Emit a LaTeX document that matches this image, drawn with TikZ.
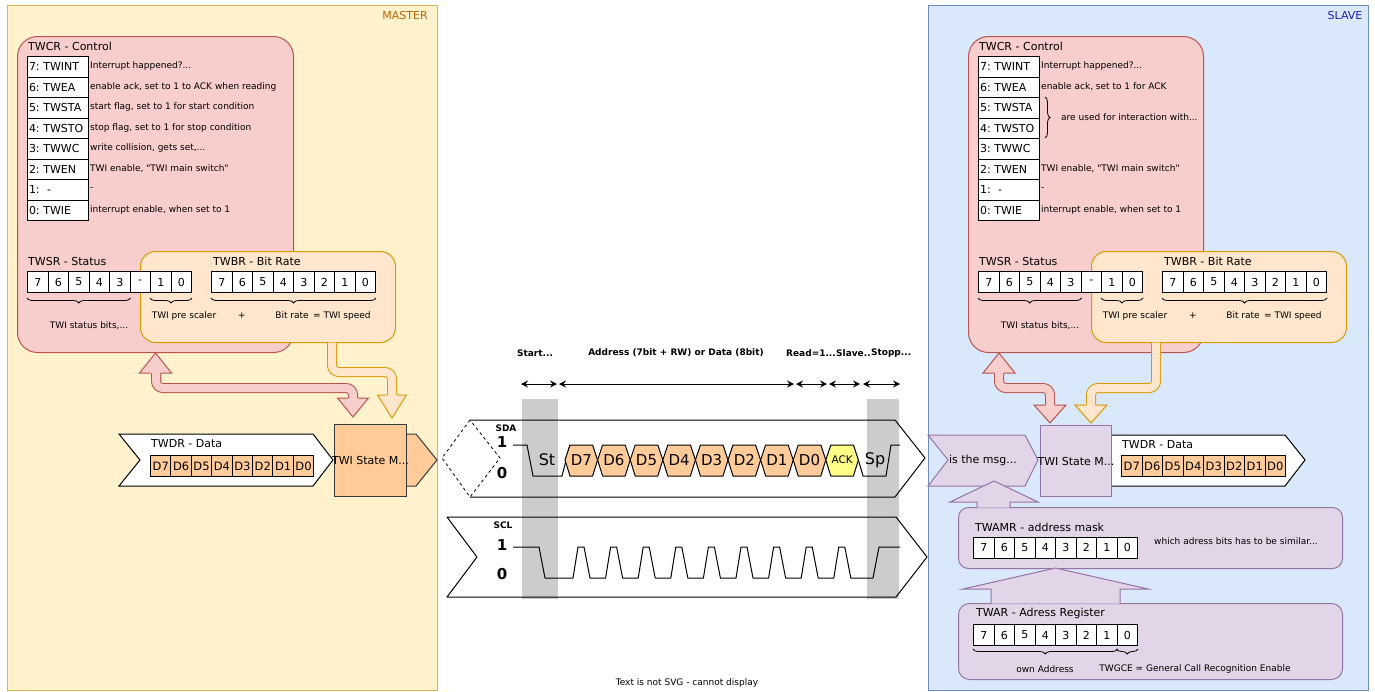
\documentclass[tikz,border=0pt]{standalone}
\usepackage{fontspec}
\setmainfont{DejaVu Sans}[Ligatures=TeXOff]
\usetikzlibrary{arrows.meta,decorations.pathreplacing,calc}
\frenchspacing

\definecolor{mfill}{HTML}{FFF2CC}\definecolor{mdraw}{HTML}{D6B656}
\definecolor{sfill}{HTML}{DAE8FC}\definecolor{sdraw}{HTML}{6C8EBF}
\definecolor{rfill}{HTML}{F8CECC}\definecolor{rdraw}{HTML}{B85450}
\definecolor{ofill}{HTML}{FFE6CC}\definecolor{odraw}{HTML}{D79B00}
\definecolor{pfill}{HTML}{E1D5E7}\definecolor{pdraw}{HTML}{9673A6}
\definecolor{dfill}{HTML}{FFCC99}
\definecolor{ackfill}{HTML}{FFFF88}
\definecolor{barcol}{HTML}{CCCCCC}
\definecolor{mtext}{HTML}{B46504}
\definecolor{stext}{HTML}{1E1EB4}
\definecolor{darkline}{HTML}{36393D}

\newcommand\fs[1]{\fontsize{#1}{#1}\selectfont}

\tikzset{
 regbox/.style={anchor=north west, inner sep=0pt, line width=1pt},
 bitcell/.style={draw=black, fill=white, minimum width=20.5pt, minimum height=21pt, anchor=north west, inner sep=0pt, font=\fs{11}, line width=1pt},
 datacell/.style={bitcell, fill=dfill, font=\fs{11.5}},
 regcell/.style={draw=black, fill=white, anchor=north west, inner xsep=1.5pt, inner ysep=0pt, text width=58pt, minimum height=20.5pt, align=left, font=\fs{11}, line width=1pt},
 desc/.style={anchor=west, inner sep=0pt, font=\fs{9}},
 note/.style={anchor=center, inner sep=0pt, font=\fs{9}},
 title/.style={anchor=west, inner sep=0pt, font=\fs{11}},
 boldlab/.style={inner sep=0pt, font=\fs{9}\bfseries},
 dbrace/.style={decorate, decoration={brace, amplitude=5pt, mirror}, line width=0.8pt},
 vbrace/.style={decorate, decoration={brace, amplitude=5pt}, line width=0.8pt},
 flexr/.style={draw=rdraw, double=rfill, double distance=8pt, line width=1pt, rounded corners=7pt},
 flexo/.style={draw=odraw, double=ofill, double distance=8pt, line width=1pt, rounded corners=7pt},
 measure/.style={{Stealth[length=7pt,width=7pt,inset=2.5pt]}-{Stealth[length=7pt,width=7pt,inset=2.5pt]}, line width=1pt},
 sig/.style={line width=1pt, line join=round},
 hexs/.style={fill=dfill, draw=black, line width=1pt, line join=round},
}

% flex arrow head: x, ybase, ytip, half width, shaft half width, fill, draw
\newcommand\flexhead[7]{%
 \fill[#6] (#1-#4,#2) -- (#1,#3) -- (#1+#4,#2) -- cycle;
 \draw[#7, line width=1pt, line join=miter] (#1-#5,#2) -- (#1-#4,#2) -- (#1,#3) -- (#1+#4,#2) -- (#1+#5,#2);
}

\newcommand\reggroup[2]{%
 \node[regbox, fill=rfill, draw=rdraw, minimum width=#2pt, minimum height=316pt, rounded corners=20pt] (#1twcr) at (17,36) {};
 \node[regbox, fill=ofill, draw=odraw, minimum width=255pt, minimum height=91pt, rounded corners=15pt] (#1twbr) at (140,251) {};
 \node[title] (#1twcrt) at (28,46) {TWCR - Control};
 \foreach \t [count=\i from 0] in {7: TWINT,6: TWEA,5: TWSTA,4: TWSTO,3: TWWC,2: TWEN,1:\ \ -,0: TWIE}
   \node[regcell] (#1r\i) at (27,{56+20.5*\i}) {\t};
 \node[title] (#1twsrt) at (28,261) {TWSR - Status};
 \foreach \t [count=\i from 0] in {7,6,5,4,3,-,1,0}
   \node[bitcell] (#1s\i) at ({27+20.5*\i},271) {\t};
 \node[title] (#1twbrt) at (213,261) {TWBR - Bit Rate};
 \foreach \t [count=\i from 0] in {7,6,5,4,3,2,1,0}
   \node[bitcell] (#1b\i) at ({211+20.5*\i},271) {\t};
 \draw[dbrace] ([yshift=-5pt]#1s0.south west) -- ([yshift=-5pt]#1s4.south east);
 \draw[dbrace] ([yshift=-5pt]#1s6.south west) -- ([yshift=-5pt]#1s7.south east);
 \draw[dbrace] ([yshift=-5pt]#1b0.south west) -- ([yshift=-5pt]#1b7.south east);
 \node[note] (#1stat) at (89,326) {TWI status bits,...};
 \node[note] (#1pre) at (184,316) {TWI pre scaler};
 \node[note] (#1plus) at (242,316) {+};
 \node[note] (#1rate) at (323,316) {Bit rate\enspace= TWI speed};
}

\begin{document}
\begin{tikzpicture}[x=1pt,y=-1pt]
\useasboundingbox (0,0) rectangle (1375,691);
\fill[white] (0,0) rectangle (1375,691);

% ===== containers =====
\node[regbox, draw=mdraw, fill=mfill, minimum width=430pt, minimum height=685pt] (master) at (7,5) {};
\node[inner sep=0pt, text=mtext, font=\fs{11}] (mlabel) at (405,15) {MASTER};
\node[regbox, draw=sdraw, fill=sfill, minimum width=440pt, minimum height=685pt] (slave) at (928,5) {};
\node[inner sep=0pt, text=stext, font=\fs{11}] (slabel) at (1345,15) {SLAVE};

% ===== master registers =====
\reggroup{m}{276}
\node[desc] (md0) at (90,66.25) {Interrupt happened?...};
\node[desc] (md1) at (90,86.75) {enable ack, set to 1 to ACK when reading};
\node[desc] (md2) at (90,107.25) {start flag, set to 1 for start condition};
\node[desc] (md3) at (90,127.75) {stop flag, set to 1 for stop condition};
\node[desc] (md4) at (90,148.25) {write collision, gets set,...};
\node[desc] (md5) at (90,168.75) {TWI enable, "TWI main switch"};
\node[desc] (md6) at (90,189.25) {-};
\node[desc] (md7) at (90,209.75) {interrupt enable, when set to 1};

% master flex arrows
\draw[flexr] (156,371) -- (156,388) -- (353,388) -- (353,400);
\flexhead{155.5}{373}{353}{16}{5}{rfill}{rdraw}
\flexhead{353}{398}{417}{15.5}{5}{rfill}{rdraw}
\draw[flexo] (332,342.5) -- (332,372) -- (392,372) -- (392,397);
\flexhead{392}{395}{418}{14.5}{5}{ofill}{odraw}

% master TWDR and state machine
\draw[fill=white, line width=1pt] (119,434) -- (313,434) -- (333,460) -- (313,486) -- (119,486) -- (140,460) -- cycle;
\node[title] (mtwdrt) at (151,444) {TWDR - Data};
\foreach \t [count=\i from 0] in {D7,D6,D5,D4,D3,D2,D1,D0}
  \node[datacell] (mdr\i) at ({150+20.4*\i},455) {\t};
\draw[fill=dfill, draw=darkline, line width=1pt] (406,434) -- (416,434) -- (437,460) -- (416,486) -- (406,486) -- cycle;
\node[regbox, draw=darkline, fill=dfill, minimum width=72pt, minimum height=72pt] (msm) at (334,424) {};
\node[inner sep=0pt, font=\fs{11}] (msmt) at (msm.center) {TWI State M...};

% ===== timing diagram =====
\node[regbox, fill=barcol, minimum width=36pt, minimum height=200pt] (bar1) at (521,398) {};
\node[regbox, fill=barcol, minimum width=32pt, minimum height=200pt] (bar2) at (866,398) {};

\node[boldlab] (lstart) at (535,353) {Start...};
\node[boldlab] (laddr) at (676,353) {Address (7bit + RW) or Data (8bit)};
\node[boldlab, anchor=west] (lread) at (786,353) {Read=1...};
\node[boldlab, anchor=west] (lslv) at (lread.east) {Slave..};
\node[boldlab, anchor=west] (lstop) at (lslv.east) {Stopp...};

\coordinate (t0) at (521,384); \coordinate (t1) at (557,384);
\coordinate (t1b) at (559,384); \coordinate (t2) at (794,384);
\coordinate (t2b) at (796,384); \coordinate (t3) at (827,384);
\coordinate (t3b) at (829,384); \coordinate (t4) at (860,384);
\coordinate (t4b) at (863,384); \coordinate (t5) at (900,384);
\draw[measure] (t0) -- (t1);
\draw[measure] (t1b) -- (t2);
\draw[measure] (t2b) -- (t3);
\draw[measure] (t3b) -- (t4);
\draw[measure] (t4b) -- (t5);

% SDA
\draw[line width=1pt, line join=round] (470,420) -- (895,420) -- (925,458) -- (895,497) -- (470,497);
\draw[line width=0.8pt, dash pattern=on 3pt off 3pt] (470,420) -- (442,458) -- (470,497) -- (500,458) -- cycle;
\node[boldlab] (sdal) at (506,428) {SDA};
\node[inner sep=0pt, font=\fs{15}\bfseries] (sda1) at (502,442) {1};
\node[inner sep=0pt, font=\fs{15}\bfseries] (sda0) at (502,473) {0};
\draw[sig] (513,445) -- (527,445) -- (533,476) -- (562,476) -- (570,445);
\node[inner sep=0pt, font=\fs{16}] (st) at (547,460) {St};
\foreach \t [count=\i from 0] in {D7,D6,D5,D4,D3,D2,D1,D0} {
  \pgfmathsetmacro\L{565+32.6*\i}
  \draw[hexs] (\L,460) -- (\L+5,445) -- (\L+27.6,445) -- (\L+32.6,460) -- (\L+27.6,476) -- (\L+5,476) -- cycle;
  \node[inner sep=0pt, font=\fs{15}] (hex\i) at (\L+16.3,460) {\t};
}
\pgfmathsetmacro\LA{565+32.6*8}
\draw[hexs, fill=ackfill] (\LA,460) -- (\LA+5,445) -- (\LA+27.6,445) -- (\LA+32.6,460) -- (\LA+27.6,476) -- (\LA+5,476) -- cycle;
\node[inner sep=0pt, font=\fs{10.5}] (ack) at (\LA+16.3,460) {ACK};
\draw[sig] (\LA+32.6,460) -- (863,476) -- (886,476) -- (891,445) -- (900,445);
\node[inner sep=0pt, font=\fs{16}] (sp) at (875,460) {Sp};

% SCL
\draw[line width=1pt, line join=round] (447,517) -- (896,517) -- (927,557) -- (896,597) -- (447,597) -- (477,557) -- cycle;
\node[boldlab] (scll) at (503,525) {SCL};
\node[inner sep=0pt, font=\fs{15}\bfseries] (scl1) at (502,545) {1};
\node[inner sep=0pt, font=\fs{15}\bfseries] (scl0) at (502,574) {0};
\draw[sig] (513,547) -- (539,547) -- (545,578)
  foreach \k in {0,1,2,3,4,5,6,7,8} { -- ({573+32.6*\k},578) -- ({578+32.6*\k},547) -- ({584+32.6*\k},547) -- ({590+32.6*\k},578) }
  -- (873,578) -- (879,547) -- (900,547);

\node[note] (nosvg) at (687,683) {Text is not SVG - cannot display};

% ===== slave registers =====
\begin{scope}[xshift=951pt]
\reggroup{s}{235}
\end{scope}
\node[desc] (sd0) at (1041,66.25) {Interrupt happened?...};
\node[desc] (sd1) at (1041,86.75) {enable ack, set to 1 for ACK};
\draw[vbrace] (1045,97) -- (1045,138);
\node[desc] (sd45) at (1061,117.5) {are used for interaction with...};
\node[desc] (sd5) at (1041,168.75) {TWI enable, "TWI main switch"};
\node[desc] (sd6) at (1041,189.25) {-};
\node[desc] (sd7) at (1041,209.75) {interrupt enable, when set to 1};

% slave flex arrows
\draw[flexr] (999,371) -- (999,388) -- (1050,388) -- (1050,407);
\flexhead{999}{373}{353}{16}{5}{rfill}{rdraw}
\flexhead{1050}{405}{423}{16}{5}{rfill}{rdraw}
\draw[flexo] (1156,342.5) -- (1156,388) -- (1091,388) -- (1091,407);
\flexhead{1091}{405}{423}{16}{5}{ofill}{odraw}

% slave msg / state / TWDR
\draw[fill=pfill, draw=pdraw, line width=1pt] (928,435) -- (1025,435) -- (1038,460) -- (1025,486) -- (928,486) -- (948,460) -- cycle;
\node[inner sep=0pt, font=\fs{11}] (msg) at (983,460) {is the msg...};
\draw[fill=white, line width=1pt] (1090,435) -- (1285,435) -- (1305,460) -- (1285,486) -- (1090,486) -- (1110,460) -- cycle;
\node[regbox, draw=pdraw, fill=pfill, minimum width=71pt, minimum height=71pt] (ssm) at (1040,425) {};
\node[inner sep=0pt, font=\fs{11}] (ssmt) at (ssm.center) {TWI State M...};
\node[title] (stwdrt) at (1122,445) {TWDR - Data};
\foreach \t [count=\i from 0] in {D7,D6,D5,D4,D3,D2,D1,D0}
  \node[datacell] (sdr\i) at ({1121+20.5*\i},455) {\t};

% TWAMR
\node[regbox, draw=pdraw, fill=pfill, minimum width=384pt, minimum height=61pt, rounded corners=10pt] (twamr) at (958,507) {};
\node[title] (twamrt) at (975,527) {TWAMR - address mask};
\foreach \t [count=\i from 0] in {7,6,5,4,3,2,1,0}
  \node[bitcell, minimum height=20.5pt] (am\i) at ({973+20.5*\i},537) {\t};
\node[desc] (amdesc) at (1154,541) {which adress bits has to be similar...};

% TWAR
\node[regbox, draw=pdraw, fill=pfill, minimum width=384pt, minimum height=76pt, rounded corners=11pt] (twar) at (958,603) {};
\node[title] (twart) at (976,613) {TWAR - Adress Register};
\foreach \t [count=\i from 0] in {7,6,5,4,3,2,1,0}
  \node[bitcell] (ar\i) at ({973+20.5*\i},624) {\t};
\draw[dbrace] ([yshift=-3pt]ar0.south west) -- ([yshift=-3pt]ar6.south east);
\draw[dbrace] ([yshift=-3pt]ar7.south west) -- ([yshift=-3pt]ar7.south east);
\node[note] (own) at (1045,669) {own Address};
\node[note] (gce) at (1195,669) {TWGCE = General Call Recognition Enable};

% purple arrows
\fill[pfill] (977,507.5) -- (977,502) -- (950,502) -- (994,481) -- (1038,502) -- (1010,502) -- (1010,507.5) -- cycle;
\draw[pdraw, line width=1pt] (977,507.5) -- (977,502) -- (950,502) -- (994,481) -- (1038,502) -- (1010,502) -- (1010,507.5);
\fill[pfill] (991,603.5) -- (991,589) -- (963,589) -- (1055.5,568) -- (1148,589) -- (1120,589) -- (1120,603.5) -- cycle;
\draw[pdraw, line width=1pt] (991,603.5) -- (991,589) -- (963,589) -- (1055.5,568) -- (1148,589) -- (1120,589) -- (1120,603.5);
\end{tikzpicture}
\end{document}
